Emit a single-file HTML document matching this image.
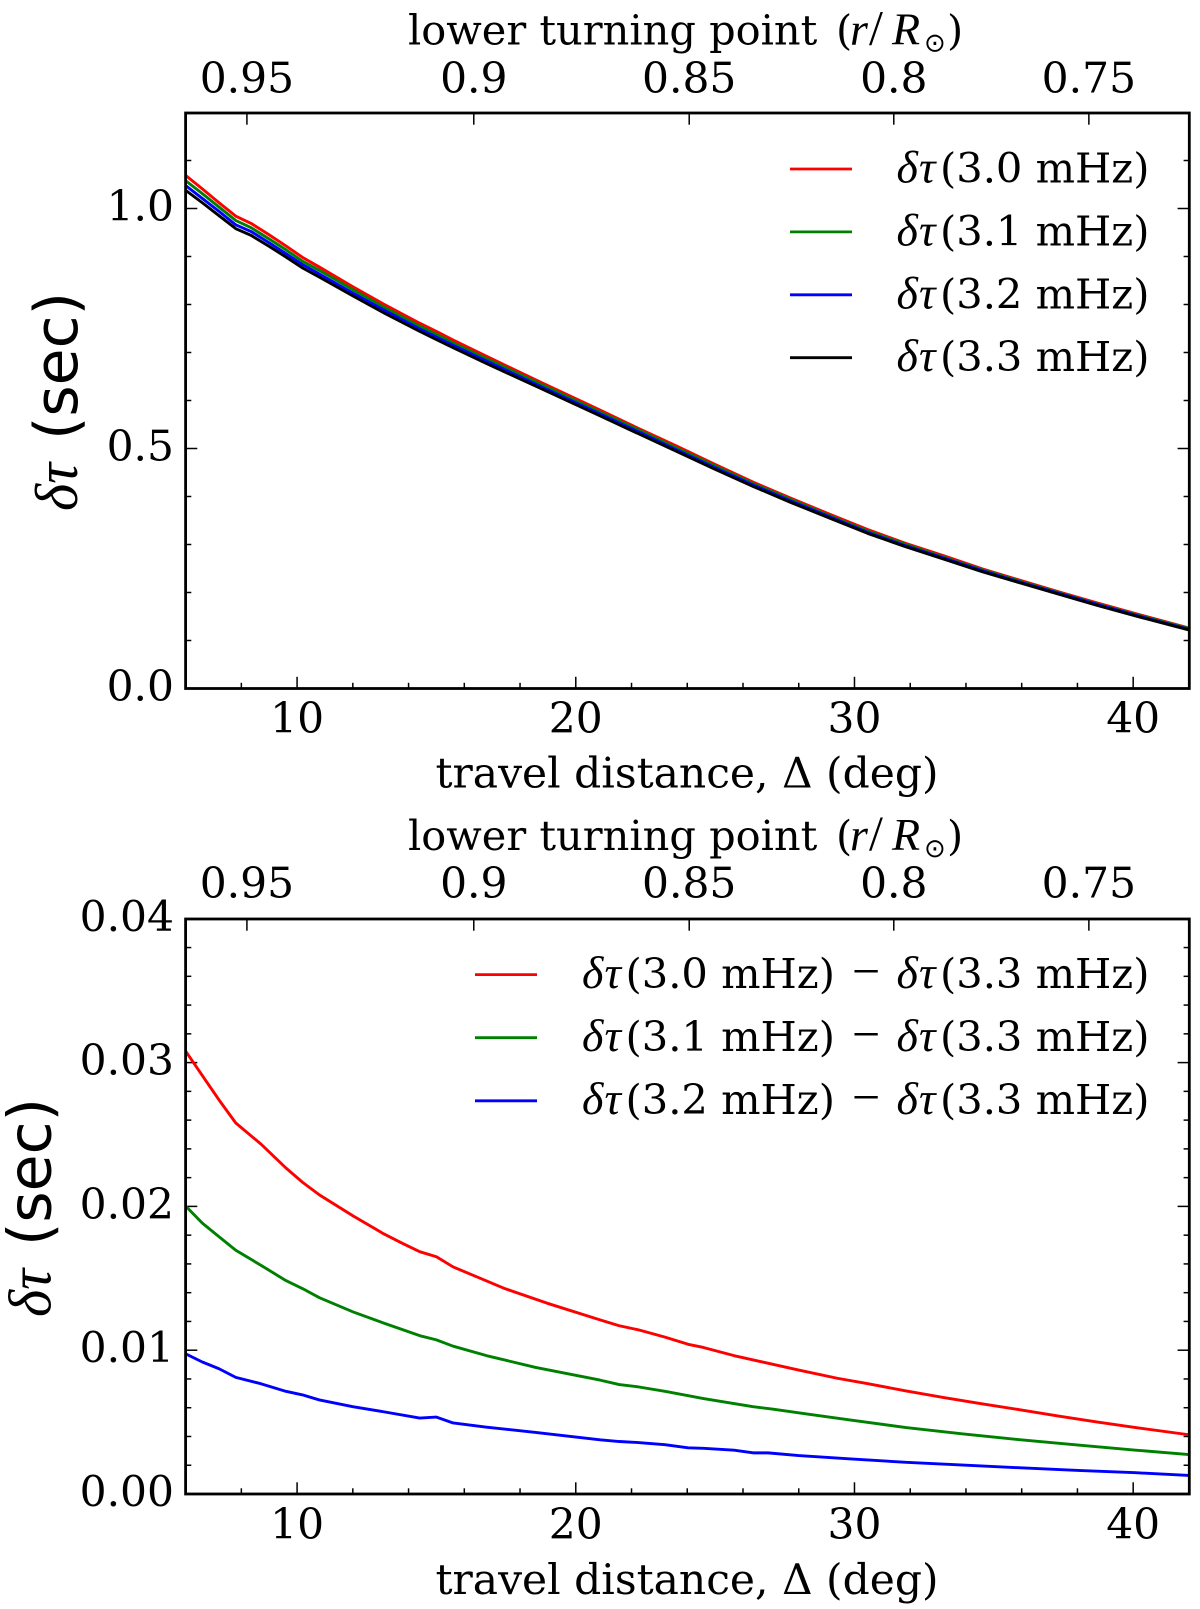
<!DOCTYPE html>
<html lang="en">
<head>
<meta charset="utf-8">
<title>Travel time perturbation vs travel distance</title>
<style>
html,body{margin:0;padding:0;background:#fff;}
svg{display:block;}
.t{font-family:"DejaVu Serif","Liberation Serif",serif;font-size:42.4px;fill:#000;}
.h{font-family:"DejaVu Serif","Liberation Serif",serif;font-size:41.5px;fill:#000;}
.l{font-family:"DejaVu Serif","Liberation Serif",serif;font-size:41.6px;fill:#000;}
.m{font-family:"Liberation Serif","DejaVu Serif",serif;font-style:italic;font-size:46px;}
.n{font-family:"Liberation Serif","DejaVu Serif",serif;font-size:50px;}
.o{font-family:"DejaVu Sans","Liberation Sans",sans-serif;font-size:26px;}
.s{font-family:"DejaVu Sans","Liberation Sans",sans-serif;font-size:60px;fill:#000;}
.d{font-family:"Liberation Serif","DejaVu Serif",serif;font-style:italic;font-size:60px;fill:#000;}
</style>
</head>
<body>
<svg id="chart" xmlns="http://www.w3.org/2000/svg" width="1200" height="1609" viewBox="0 0 1200 1609">
<defs>
<clipPath id="clipTop"><rect x="185.6" y="113" width="1003.7" height="575.5"/></clipPath>
<clipPath id="clipBot"><rect x="185.6" y="919" width="1003.7" height="575"/></clipPath>
</defs>
<rect x="0" y="0" width="1200" height="1609" fill="#fff"/>
<g id="panelTop"></g>
<g id="panelBot"></g>

<!-- upper panel titles -->
<text class="h" y="44.3"><tspan x="408">lower turning point</tspan><tspan x="836">(</tspan><tspan class="m" x="850">r</tspan><tspan class="n" x="869">/</tspan><tspan class="m" x="892">R</tspan><tspan class="o" x="924" dy="7">⊙</tspan><tspan x="947" dy="-7">)</tspan></text>
<text class="t" x="435.5" y="787.7">travel distance, Δ (deg)</text>
<g>
<text class="d" transform="translate(77,511) rotate(-90)" textLength="48" lengthAdjust="spacingAndGlyphs">δτ</text>
<text class="s" transform="translate(77,440) rotate(-90)">(sec)</text>
</g>

<!-- lower panel titles -->
<text class="h" y="850"><tspan x="408">lower turning point</tspan><tspan x="836">(</tspan><tspan class="m" x="850">r</tspan><tspan class="n" x="869">/</tspan><tspan class="m" x="892">R</tspan><tspan class="o" x="924" dy="7">⊙</tspan><tspan x="947" dy="-7">)</tspan></text>
<text class="t" x="435.5" y="1594">travel distance, Δ (deg)</text>
<g>
<text class="d" transform="translate(50.5,1317) rotate(-90)" textLength="48" lengthAdjust="spacingAndGlyphs">δτ</text>
<text class="s" transform="translate(50.5,1246) rotate(-90)">(sec)</text>
</g>

<!-- upper legend -->
<g>
<line x1="790" x2="852" y1="169" y2="169" stroke="#ff0000" stroke-width="2.8"/>
<line x1="790" x2="852" y1="231.9" y2="231.9" stroke="#008000" stroke-width="2.8"/>
<line x1="790" x2="852" y1="294.8" y2="294.8" stroke="#0000ff" stroke-width="2.8"/>
<line x1="790" x2="852" y1="357.7" y2="357.7" stroke="#000" stroke-width="2.8"/>
<text class="l" y="182.5"><tspan class="m" x="896.5">δ</tspan><tspan class="m" x="919">τ</tspan><tspan x="940">(3.0 mHz)</tspan></text>
<text class="l" y="245.4"><tspan class="m" x="896.5">δ</tspan><tspan class="m" x="919">τ</tspan><tspan x="940">(3.1 mHz)</tspan></text>
<text class="l" y="308.3"><tspan class="m" x="896.5">δ</tspan><tspan class="m" x="919">τ</tspan><tspan x="940">(3.2 mHz)</tspan></text>
<text class="l" y="371.2"><tspan class="m" x="896.5">δ</tspan><tspan class="m" x="919">τ</tspan><tspan x="940">(3.3 mHz)</tspan></text>
</g>

<!-- lower legend -->
<g>
<line x1="475" x2="537" y1="974.6" y2="974.6" stroke="#ff0000" stroke-width="2.8"/>
<line x1="475" x2="537" y1="1037.7" y2="1037.7" stroke="#008000" stroke-width="2.8"/>
<line x1="475" x2="537" y1="1100.8" y2="1100.8" stroke="#0000ff" stroke-width="2.8"/>
<text class="l" y="988"><tspan class="m" x="582">δ</tspan><tspan class="m" x="604.5">τ</tspan><tspan x="625.5">(3.0 mHz)</tspan><tspan class="n" x="852">−</tspan><tspan class="m" x="896.5">δ</tspan><tspan class="m" x="919">τ</tspan><tspan x="940">(3.3 mHz)</tspan></text>
<text class="l" y="1051.1"><tspan class="m" x="582">δ</tspan><tspan class="m" x="604.5">τ</tspan><tspan x="625.5">(3.1 mHz)</tspan><tspan class="n" x="852">−</tspan><tspan class="m" x="896.5">δ</tspan><tspan class="m" x="919">τ</tspan><tspan x="940">(3.3 mHz)</tspan></text>
<text class="l" y="1114.2"><tspan class="m" x="582">δ</tspan><tspan class="m" x="604.5">τ</tspan><tspan x="625.5">(3.2 mHz)</tspan><tspan class="n" x="852">−</tspan><tspan class="m" x="896.5">δ</tspan><tspan class="m" x="919">τ</tspan><tspan x="940">(3.3 mHz)</tspan></text>
</g>
</svg>

<script>
// ---- shared axis data ----
const xMajorTicks = [10, 20, 30, 40];
const xMinorTicks = [8, 12, 14, 16, 18, 22, 24, 26, 28, 32, 34, 36, 38, 42];
const topAxisLabels = ["0.95", "0.9", "0.85", "0.8", "0.75"];
const topAxisDelta = [8.2, 16.34, 24.07, 31.41, 38.41];

// ---- upper panel data ----
const upperYMajor = [0, 0.5, 1.0];
const upperYMajorLabels = ["0.0", "0.5", "1.0"];
const upperYMinor = [0.1, 0.2, 0.3, 0.4, 0.6, 0.7, 0.8, 0.9, 1.1];
const upperDelta = [6,6.6,7.2,7.8,8.35,9,9.6,10.2,10.8,12,13.1,14.4,15,15.6,16.8,18.56,20.87,22.24,23.62,24.99,26.36,27.74,29.11,30.48,31.85,33.23,34.6,35.97,37.35,38.72,40.09,42];
const upper30 = [1.069,1.041,1.012,.984,.969,.945,.922,.898,.878,.837,.801,.761,.744,.726,.692,.643,.580,.542,.505,.467,.430,.396,.363,.331,.302,.276,.249,.225,.201,.178,.156,.126];
const upper31 = [1.058,1.031,1.003,.975,.960,.9365,.914,.890,.871,.831,.795,.755,.738,.720,.687,.639,.576,.539,.501,.464,.427,.393,.360,.328,.300,.273,.247,.223,.1995,.176,.154,.125];
const upper32 = [1.048,1.021,.994,.966,.952,.9285,.906,.883,.8635,.824,.789,.749,.732,.715,.682,.634,.572,.535,.497,.460,.424,.390,.3575,.325,.297,.271,.245,.221,.198,.175,.1525,.123];
const upper33 = [1.038,1.012,.985,.958,.944,.921,.899,.876,.857,.818,.783,.744,.727,.710,.677,.630,.568,.531,.494,.457,.421,.387,.355,.323,.295,.269,.243,.2195,.196,.173,.151,.122];

// ---- lower panel data ----
const lowerYMajor = [0, 0.01, 0.02, 0.03, 0.04];
const lowerYMajorLabels = ["0.00", "0.01", "0.02", "0.03", "0.04"];
const lowerYMinor = [0.002,0.004,0.006,0.008,0.012,0.014,0.016,0.018,0.022,0.024,0.026,0.028,0.032,0.034,0.036,0.038];
const lowerRedDelta = [6,6.6,7.2,7.8,8.7,9.6,10.2,10.8,12,13.1,13.76,14.4,15,15.6,16.5,17.46,18.97,20.87,21.56,22.24,23.2,24.03,24.58,25.68,26.77,28,29.38,30.48,31.85,33.23,34.6,35.97,37.35,38.72,40.09,42];
const lowerRed = [.0308,.0291,.0274,.0258,.02434,.02267,.02167,.0208,.01935,.0181,.01745,.01685,.0165,.01579,.01506,.01428,.01327,.01211,.0117,.01142,.01091,.01041,.01019,.00962,.00915,.00862,.00805,.00767,.00717,.0067,.00626,.00585,.00541,.005,.00462,.00412];
const lowerGreenDelta = [6,6.6,7.2,7.8,8.7,9.6,10.2,10.8,12,13.1,14.4,15,15.6,16.8,18.56,20.87,21.56,22.24,23.2,24.58,26.36,27.05,28.28,29.8,31.85,33.9,35.97,38.03,40.09,42];
const lowerGreen = [.02003,.01884,.01789,.01695,.01591,.01484,.01428,.01365,.01267,.01189,.01101,.01072,.01028,.00962,.0088,.00792,.00761,.00745,.00714,.00664,.00607,.00591,.00557,.00516,.00462,.00418,.00377,.0034,.00305,.00274];
const lowerBlueDelta = [6,6.6,7.2,7.8,8.7,9.6,10.2,10.8,12,13.1,14.4,15,15.6,16.8,18.56,20.87,21.56,22.24,23.2,24.03,24.58,25.68,26.36,26.9,28,29.8,31.85,33.9,35.97,38.03,40.09,42];
const lowerBlue = [.00975,.00918,.00871,.00811,.00767,.00714,.00689,.00654,.00607,.00572,.00528,.00535,.00494,.00465,.00428,.00377,.00365,.00358,.00343,.00321,.00318,.00305,.00286,.00286,.00267,.00245,.0022,.00201,.00182,.00164,.00148,.00129];

// ---- axis functions ----
const NS = "http://www.w3.org/2000/svg";
const LEFT = 185.6, RIGHT = 1189.3;
function xScale(v) { return LEFT + (v - 6) * 27.87; }
function yUpper(v) { return 688.5 - v * 480; }
function yLower(v) { return 1494 - v * 14380; }

function tick(parent, name, x1, y1, x2, y2) {
  const el = document.createElementNS(NS, "line");
  
  
  el.setAttribute("x1", x1);
  el.setAttribute("y1", y1);
  el.setAttribute("x2", x2);
  el.setAttribute("y2", y2);
  el.setAttribute("stroke", "#000");
  el.setAttribute("stroke-width", "1.5");
  parent.appendChild(el);
}

function label(parent, name, x, y, anchor, str) {
  const el = document.createElementNS(NS, "text");
  
  
  el.setAttribute("class", "t");
  el.setAttribute("text-anchor", anchor);
  el.setAttribute("x", x);
  el.setAttribute("y", y);
  el.textContent = str;
  parent.appendChild(el);
}

function series(parent, name, clip, xs, ys, yFn, color) {
  const el = document.createElementNS(NS, "polyline");
  
  
  el.setAttribute("points", xs.map(function (x, i) { return xScale(x).toFixed(2) + "," + yFn(ys[i]).toFixed(2); }).join(" "));
  el.setAttribute("fill", "none");
  el.setAttribute("stroke", color);
  el.setAttribute("stroke-width", "2.9");
  el.setAttribute("stroke-linejoin", "round");
  el.setAttribute("clip-path", "url(#" + clip + ")");
  parent.appendChild(el);
}

function frame(parent, prefix, yTopPx, yBottomPx, yFn, yMajor, yLabels, yMinor, topLabelBase, xLabelBase) {
  xMajorTicks.forEach(function (v) {
    tick(parent, prefix + "-x-major-tick", xScale(v), yBottomPx, xScale(v), yBottomPx - 11.7);
    label(parent, prefix + "-x-tick-label", xScale(v), xLabelBase, "middle", String(v));
  });
  xMinorTicks.forEach(function (v) {
    tick(parent, prefix + "-x-minor-tick", xScale(v), yBottomPx, xScale(v), yBottomPx - 5.7);
  });
  topAxisDelta.forEach(function (v, i) {
    tick(parent, prefix + "-top-tick", xScale(v), yTopPx, xScale(v), yTopPx + 11.7);
    label(parent, prefix + "-top-tick-label", xScale(v), topLabelBase, "middle", topAxisLabels[i]);
  });
  yMajor.forEach(function (v, i) {
    tick(parent, prefix + "-y-major-tick-left", LEFT, yFn(v), LEFT + 11.7, yFn(v));
    tick(parent, prefix + "-y-major-tick-right", RIGHT, yFn(v), RIGHT - 11.7, yFn(v));
    label(parent, prefix + "-y-tick-label", 174, yFn(v) + 12, "end", yLabels[i]);
  });
  yMinor.forEach(function (v) {
    tick(parent, prefix + "-y-minor-tick-left", LEFT, yFn(v), LEFT + 5.7, yFn(v));
    tick(parent, prefix + "-y-minor-tick-right", RIGHT, yFn(v), RIGHT - 5.7, yFn(v));
  });
}

function spines(parent, name, yTopPx, yBottomPx) {
  const el = document.createElementNS(NS, "rect");
  
  
  el.setAttribute("x", LEFT);
  el.setAttribute("y", yTopPx);
  el.setAttribute("width", RIGHT - LEFT);
  el.setAttribute("height", yBottomPx - yTopPx);
  el.setAttribute("fill", "none");
  el.setAttribute("stroke", "#000");
  el.setAttribute("stroke-width", "2.8");
  parent.appendChild(el);
}

// ---- draw ----
const pTop = document.getElementById("panelTop");
const pBot = document.getElementById("panelBot");

frame(pTop, "upper", 113, 688.5, yUpper, upperYMajor, upperYMajorLabels, upperYMinor, 92.7, 732.3);
series(pTop, "upper-line-3-0-mhz", "clipTop", upperDelta, upper30, yUpper, "#ff0000");
series(pTop, "upper-line-3-1-mhz", "clipTop", upperDelta, upper31, yUpper, "#008000");
series(pTop, "upper-line-3-2-mhz", "clipTop", upperDelta, upper32, yUpper, "#0000ff");
series(pTop, "upper-line-3-3-mhz", "clipTop", upperDelta, upper33, yUpper, "#000000");
spines(pTop, "upper-axes-frame", 113, 688.5);

frame(pBot, "lower", 919, 1494, yLower, lowerYMajor, lowerYMajorLabels, lowerYMinor, 897.7, 1538.5);
series(pBot, "lower-line-3-0-minus-3-3", "clipBot", lowerRedDelta, lowerRed, yLower, "#ff0000");
series(pBot, "lower-line-3-1-minus-3-3", "clipBot", lowerGreenDelta, lowerGreen, yLower, "#008000");
series(pBot, "lower-line-3-2-minus-3-3", "clipBot", lowerBlueDelta, lowerBlue, yLower, "#0000ff");
spines(pBot, "lower-axes-frame", 919, 1494);
</script>
</body>
</html>
